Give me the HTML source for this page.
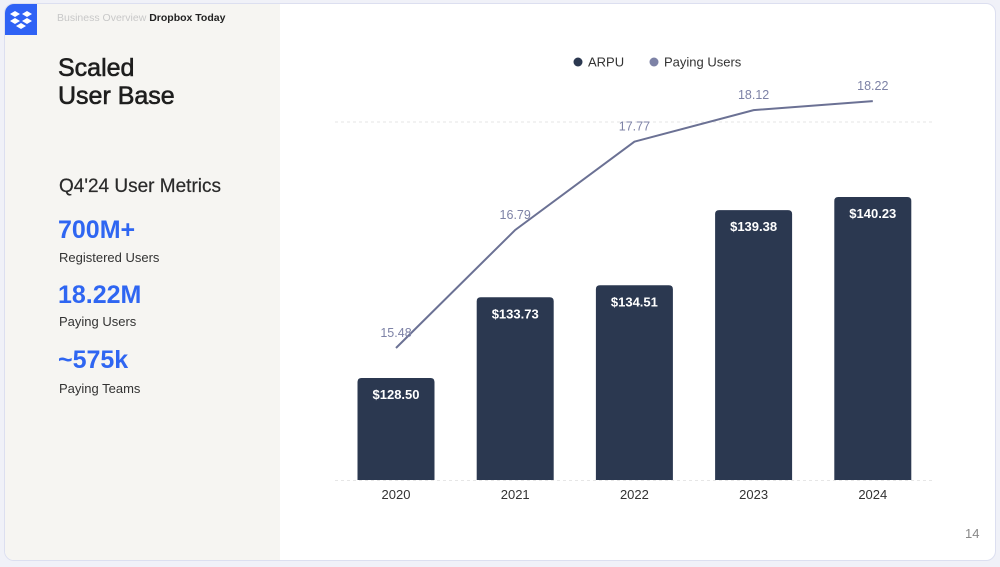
<!DOCTYPE html>
<html><head><meta charset="utf-8">
<style>
html,body{margin:0;padding:0;width:1000px;height:567px;overflow:hidden;background:#f0f1f8;font-family:"Liberation Sans",sans-serif;}
#slide{position:absolute;left:4px;top:3px;width:990px;height:556px;background:#fff;border:1px solid #dcdff0;border-radius:10px;overflow:hidden;}
#left{position:absolute;left:0;top:0;width:275px;height:556px;background:#f6f5f2;}
.t{position:absolute;white-space:nowrap;}
.big{color:#2f66f2;font-weight:bold;font-size:25px;}
.sub{color:#333;font-size:13px;}
</style></head><body>
<div id="slide">
 <div id="left">
  <div style="position:absolute;left:0;top:0;width:32px;height:31px;background:#2f62f5;">
   <svg width="32" height="31" viewBox="0 0 32 31"><g fill="#fff"><polygon points="10,7 15,10 10,13 5,10"/><polygon points="22,7 27,10 22,13 17,10"/><polygon points="10,14 15,17 10,20 5,17"/><polygon points="22,14 27,17 22,20 17,17"/><polygon points="16,19 21,22 16,25 11,22"/></g></svg>
  </div>
  <div class="t" style="left:52px;top:8px;font-size:10.5px;"><span style="color:#c8c8c8">Business Overview</span> <span style="color:#222;font-weight:bold">Dropbox Today</span></div>
  <div class="t" style="left:53px;top:50px;font-size:25px;line-height:28px;color:#1e1e1e;-webkit-text-stroke:0.6px #1e1e1e;">Scaled<br>User Base</div>
  <div class="t" style="left:54px;top:172px;font-size:19px;color:#2a2a2a;-webkit-text-stroke:0.2px #2a2a2a;">Q4'24 User Metrics</div>
  <div class="t big" style="left:53px;top:212px;">700M+</div>
  <div class="t sub" style="left:54px;top:246px;">Registered Users</div>
  <div class="t big" style="left:53px;top:277px;">18.22M</div>
  <div class="t sub" style="left:54px;top:310px;">Paying Users</div>
  <div class="t big" style="left:53px;top:342px;">~575k</div>
  <div class="t sub" style="left:54px;top:377px;">Paying Teams</div>
 </div>
 <div class="t" style="left:960px;top:522px;font-size:13px;color:#888;">14</div>
</div>
<svg id="chart" width="1000" height="567" style="position:absolute;left:0;top:0;"></svg>
<script>
const years=["2020","2021","2022","2023","2024"];
const arpu=[128.50,133.73,134.51,139.38,140.23];
const arpuLabels=["$128.50","$133.73","$134.51","$139.38","$140.23"];
const users=[15.48,16.79,17.77,18.12,18.22];
const userLabels=["15.48","16.79","17.77","18.12","18.22"];
const NS="http://www.w3.org/2000/svg";
const svg=document.getElementById('chart');
const xC=i=>396+i*119.2;
const yBar=v=>480-(v-121.89)*15.43;
const yLine=v=>348-(v-15.48)*90.1;
function mk(t,a,p){const e=document.createElementNS(NS,t);for(const k in a)e.setAttribute(k,a[k]);(p||svg).appendChild(e);return e;}
let g1=mk('line',{x1:335,x2:935,y1:122,y2:122,stroke:'#e6e6e6','stroke-dasharray':'3,3'});


let g2=mk('line',{x1:335,x2:935,y1:480.5,y2:480.5,stroke:'#e6e6e6','stroke-dasharray':'3,3'});


arpu.forEach((v,i)=>{
 const y=yBar(v),x=xC(i)-38.5;
 const b=mk('path',{d:`M${x},480 V${y+4} Q${x},${y} ${x+4},${y} H${x+73} Q${x+77},${y} ${x+77},${y+4} V480 Z`,fill:'#2b3850'});
 
 
 const t=mk('text',{x:xC(i),y:y+21,'text-anchor':'middle',fill:'#fff','font-size':13,'font-weight':'bold','font-family':'Liberation Sans, sans-serif'});
 t.textContent=arpuLabels[i];
 
 
 const xl=mk('text',{x:xC(i),y:499,'text-anchor':'middle',fill:'#333','font-size':13,'font-family':'Liberation Sans, sans-serif'});
 xl.textContent=years[i];
 
 
});
const pts=users.map((v,i)=>xC(i)+','+yLine(v)).join(' ');
const pl=mk('polyline',{points:pts,fill:'none',stroke:'#6b7194','stroke-width':2});


users.forEach((v,i)=>{
 const t=mk('text',{x:xC(i),y:yLine(v)-11,'text-anchor':'middle',fill:'#7d82a6','font-size':12.5,'font-family':'Liberation Sans, sans-serif'});
 t.textContent=userLabels[i];
 
 
});
const l1=mk('circle',{cx:578,cy:62,r:4.5,fill:'#2b3850'});


const lt1=mk('text',{x:588,y:66.5,fill:'#333','font-size':13,'font-family':'Liberation Sans, sans-serif'});lt1.textContent='ARPU';


const l2=mk('circle',{cx:654,cy:62,r:4.5,fill:'#7d82a6'});


const lt2=mk('text',{x:664,y:66.5,fill:'#333','font-size':13,'font-family':'Liberation Sans, sans-serif'});lt2.textContent='Paying Users';


</script>
</body></html>
